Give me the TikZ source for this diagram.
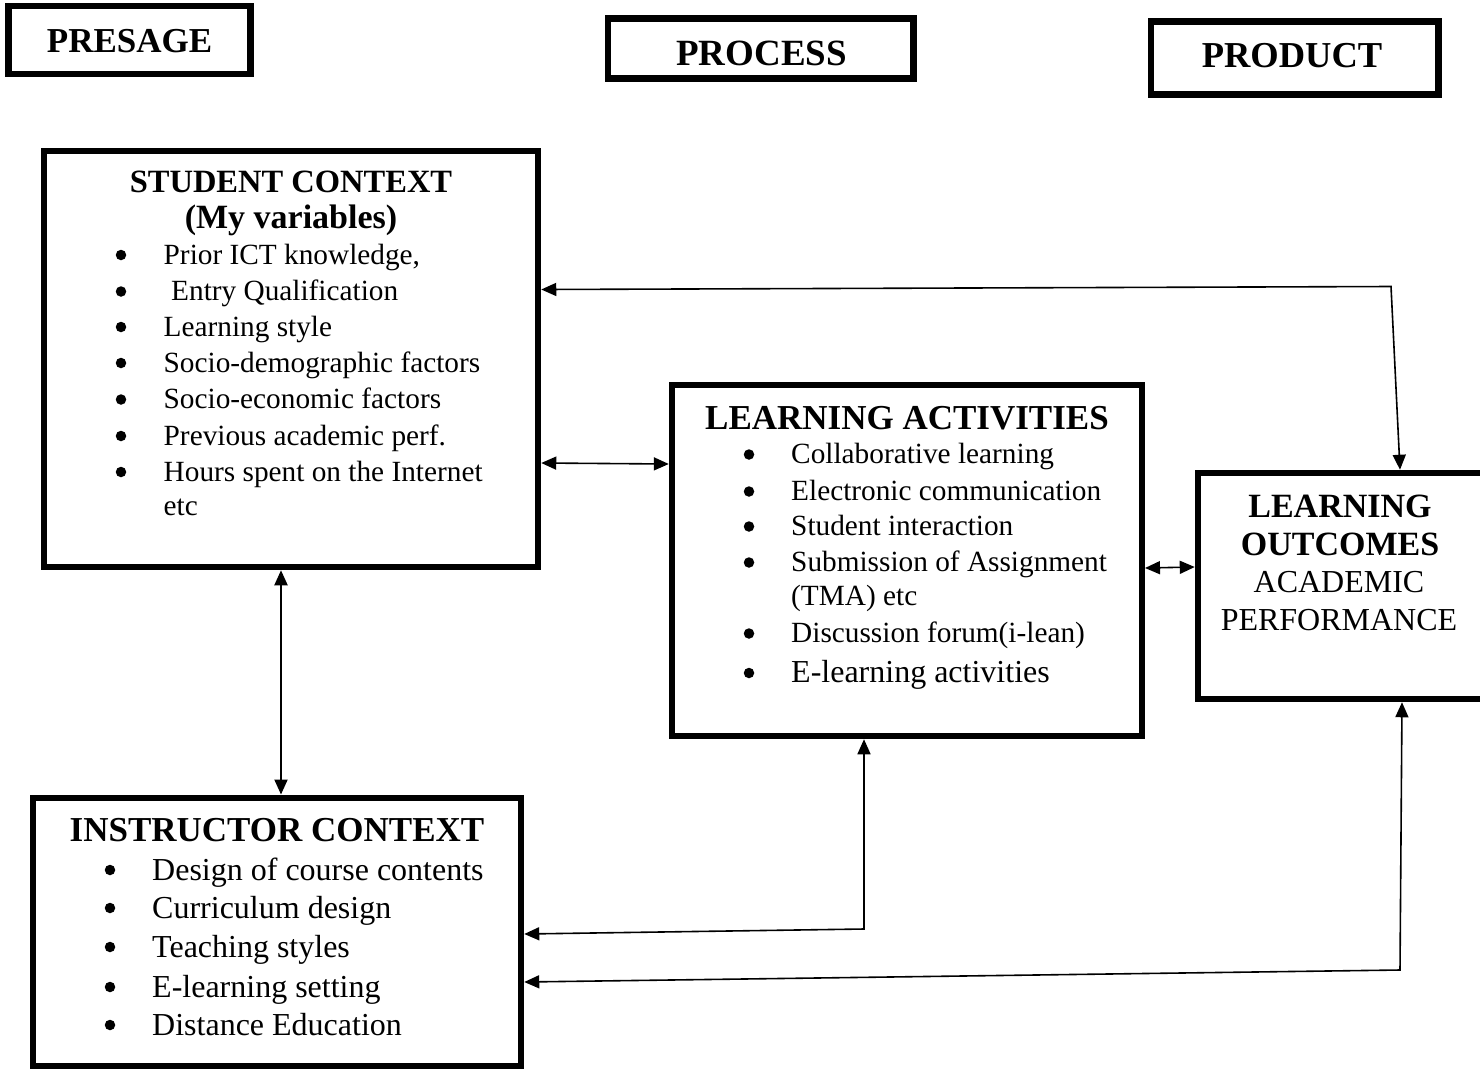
\documentclass[tikz,border=0pt]{standalone}
\usepackage{fontspec}
\setmainfont{Liberation Serif}
\usetikzlibrary{arrows.meta}
\newcommand\fsz[1]{\fontsize{#1}{#1}\selectfont}

\begin{document}
\begin{tikzpicture}[x=1pt,y=-1pt,
  frame/.style={draw, line width=6.5pt, inner sep=0pt},
  bt/.style={font=\bfseries\fsz{#1}, inner sep=0pt, anchor=base},
  ct/.style={font=\fsz{#1}, inner sep=0pt, anchor=base},
  lt/.style={font=\fsz{#1}, inner sep=0pt, anchor=base west},
  dot/.style={circle, fill, inner sep=0pt, minimum size=10.5pt},
  link/.style={line width=1.6pt,
    {Triangle[length=15pt,width=13pt]}-{Triangle[length=15pt,width=13pt]}},
]
\useasboundingbox (0,0) rectangle (1480,1069);

% --- stage headings ---
\node[frame, minimum width=241.8pt, minimum height=68pt] (presage) at (129.6,40) {};
\node[bt=35] (presageT) at (129.6,52.7) {PRESAGE};
\node[frame, minimum width=305.5pt, minimum height=60pt] (process) at (760.7,48.5) {};
\node[bt=37] (processT) at (761.5,65) {PROCESS};
\node[frame, minimum width=287.5pt, minimum height=73pt] (product) at (1294.7,58) {};
\node[bt=36.5] (productT) at (1292,67) {PRODUCT};

% --- student context ---
\node[frame, minimum width=494pt, minimum height=416pt] (stu) at (291,359) {};
\node[bt=32.5] (stuT1) at (291,192) {STUDENT CONTEXT};
\node[bt=34] (stuT2) at (291,228.5) {(My variables)};
\foreach \t/\y/\dx [count=\i] in {{Prior ICT knowledge,}/264/0,
    {Entry Qualification}/300.5/7.5, {Learning style}/336/0,
    {Socio-demographic factors}/372/0, {Socio-economic factors}/408.5/0,
    {Previous academic perf.}/445/0, {Hours spent on the Internet}/481/0} {
  \node[dot] (stuB\i) at (121,\y-9) {};
  \node[lt=29.3] (stuI\i) at (163.5+\dx,\y) {\t};
}
\node[lt=29.3] (stuI8) at (163.5,515) {etc};

% --- learning activities ---
\node[frame, minimum width=469.7pt, minimum height=351pt] (act) at (906.9,560.5) {};
\node[bt=35] (actT) at (907,429) {LEARNING ACTIVITIES};
\foreach \t/\y [count=\i] in {{Collaborative learning}/463,
    {Electronic communication}/500, {Student interaction}/535,
    {Submission of Assignment}/571, {Discussion forum(i-lean)}/642} {
  \node[dot] (actB\i) at (749,\y-8.5) {};
  \node[lt=29.3] (actI\i) at (791,\y) {\t};
}
\node[lt=29.3] (actC) at (791,605) {(TMA) etc};
\node[dot] (actB6) at (749,682-9) {};
\node[lt=32] (actI6) at (791,682) {E-learning activities};

% --- learning outcomes ---
\node[frame, minimum width=287pt, minimum height=226pt] (out) at (1341.5,586) {};
\node[bt=34] (outT1) at (1340,517) {LEARNING};
\node[bt=34] (outT2) at (1340,555) {OUTCOMES};
\node[ct=32] (outT3) at (1339,592) {ACADEMIC};
\node[ct=32] (outT4) at (1339,630) {PERFORMANCE};

% --- instructor context ---
\node[frame, minimum width=488pt, minimum height=268.3pt] (ins) at (277,931.9) {};
\node[bt=35] (insT) at (277,841) {INSTRUCTOR CONTEXT};
\foreach \t/\y [count=\i] in {{Design of course contents}/880,
    {Curriculum design}/918, {Teaching styles}/957,
    {E-learning setting}/997, {Distance Education}/1035} {
  \node[dot] (insB\i) at (110,\y-10) {};
  \node[lt=32] (insI\i) at (152,\y) {\t};
}

% --- connectors ---
\coordinate (c1) at (1391,286.5);
\coordinate (c2) at (864,929);
\coordinate (c3) at (1400,970);

\draw[link, line width=2pt] (281,0 |- stu.south) -- (281,0 |- ins.north);
\draw[link] (stu.east |- 0,463) -- (act.west |- 0,464);
\draw[link] (stu.east |- 0,289.5) -- (c1) -- (1400,0 |- out.north);
\draw[link] (act.east |- 0,568) -- (out.west |- 0,567);
\draw[link] (ins.east |- 0,934) -- (c2) -- (864,0 |- act.south);
\draw[link] (ins.east |- 0,982) -- (c3) -- (1402,0 |- out.south);
\end{tikzpicture}
\end{document}
